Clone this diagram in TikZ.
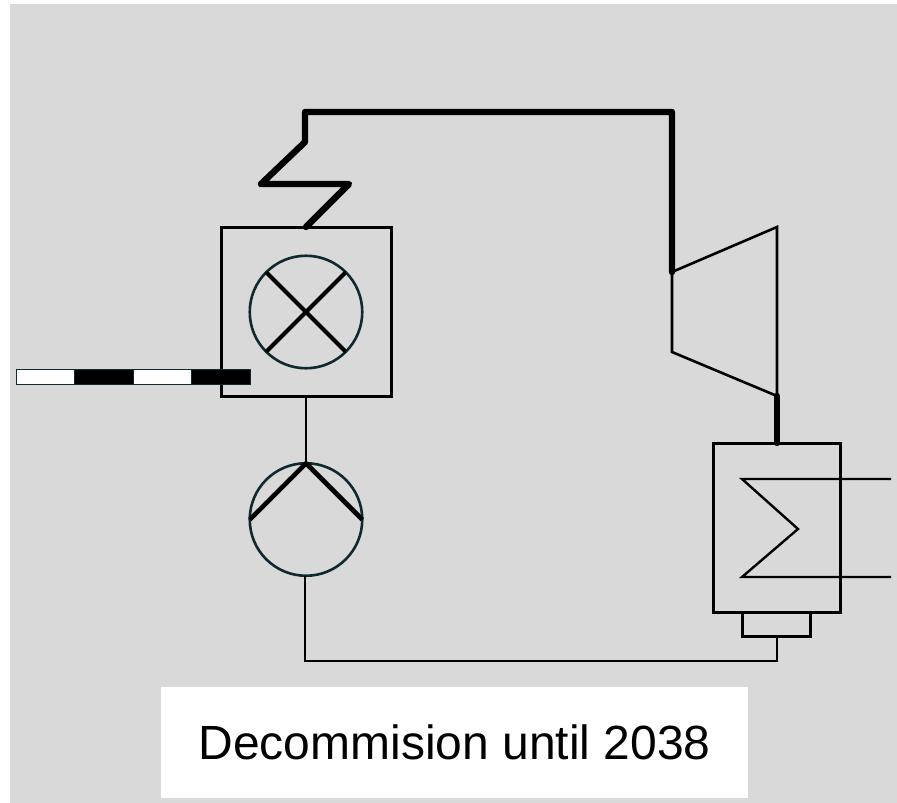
\documentclass[tikz,border=0pt]{standalone}
\usepackage{fontspec}
\setmainfont{Liberation Sans}
\definecolor{panelgray}{HTML}{D9D9D9}
\definecolor{darkteal}{HTML}{0F2A2E}
\begin{document}
\begin{tikzpicture}[
    x=1pt, y=-1pt,
    unitbox/.style={rectangle, draw=black, line width=3pt, inner sep=0pt, outer sep=0pt},
    roundunit/.style={circle, draw=darkteal, line width=2.6pt, minimum size=112.5pt, inner sep=0pt, outer sep=0pt},
    steamline/.style={draw=black, line width=6.4pt, line join=round, line cap=round},
    waterline/.style={draw=black, line width=2pt},
    coilline/.style={draw=black, line width=2.4pt, line join=miter},
    symline/.style={draw=black, line width=4pt},
    turbline/.style={draw=black, line width=2.6pt, line join=miter},
    fuelseg/.style={rectangle, draw=darkteal, line width=1pt, minimum width=58.5pt, minimum height=15pt, inner sep=0pt, outer sep=0pt},
    caption/.style={rectangle, fill=white, minimum width=587pt, minimum height=111pt, inner sep=0pt, font=\fontsize{48}{52}\selectfont}
]
\useasboundingbox (0,0) rectangle (897,803);
\fill[panelgray] (10,4) rectangle (897,803);

%  -- Boiler with burner  --
\node[unitbox, minimum width=170pt, minimum height=169pt] (boiler) at (306, 311.5) {};
\node[roundunit] (burner) at (306, 312) {};
\draw[symline] (burner.135) -- (burner.315);
\draw[symline] (burner.45) -- (burner.225);

%  -- Fuel feed bar  --
\foreach \col [count=\c] in {white,black,white,black} {
  \pgfmathsetmacro{\x}{45.25 + (\c - 1) * 58.5}
  \node[fuelseg, fill=\col] (fuel\c) at (\x, 376.5) {};
}

%  -- Pump  --
\node[roundunit] (pump) at (306, 519.5) {};
\draw[symline, line width=4.6pt, line join=round] (pump.west) -- (pump.north) -- (pump.east);
\draw[waterline] (boiler.south) -- (pump.north);

%  -- Turbine  --
\coordinate (turbinA) at (672, 272);
\coordinate (turbinB) at (777, 227);
\coordinate (turbinC) at (777, 396);
\coordinate (turbinD) at (672, 352);
\draw[turbline] (turbinA) -- (turbinB) -- (turbinC) -- (turbinD) -- cycle;

%  -- Condenser  --
\node[unitbox, minimum width=127pt, minimum height=169pt] (condenser) at (777, 527.5) {};
\node[unitbox, minimum width=68pt, minimum height=24pt] (hotwell) at (776.5, 624) {};
\coordinate (coilin)  at (891, 479);
\coordinate (coilA)   at (742, 479);
\coordinate (coilB)   at (798, 529);
\coordinate (coilC)   at (742, 577);
\coordinate (coilout) at (891, 577);
\draw[coilline] (coilin) -- (coilA) -- (coilB) -- (coilC) -- (coilout);

%  -- Steam path  --
\coordinate (zigA) at (349, 184);
\coordinate (zigB) at (261, 184);
\coordinate (zigC) at (305, 142);
\coordinate (topL) at (305, 112);
\coordinate (topR) at (672, 112);
\draw[steamline] (boiler.north) -- (zigA) -- (zigB) -- (zigC) -- (topL) -- (topR) -- (turbinA);
\draw[steamline] (turbinC) -- (condenser.north);

%  -- Condensate return  --
\coordinate (retR) at (776.5, 661);
\coordinate (retL) at (305, 661);
\draw[waterline] (hotwell.south) -- (retR) -- (retL) -- (retL |- pump.south);

%  -- Caption  --
\node[caption] (note) at (454.5, 742.5) {Decommision until 2038};

\end{tikzpicture}
\end{document}
